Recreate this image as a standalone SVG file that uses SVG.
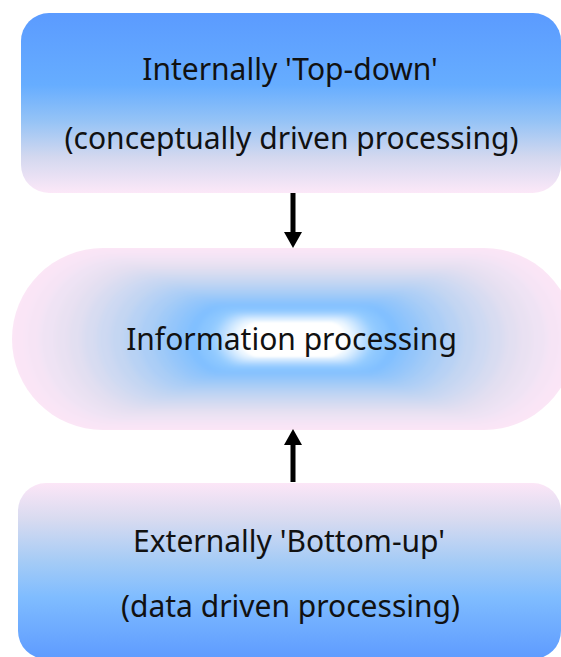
<svg xmlns="http://www.w3.org/2000/svg" width="561" height="657" viewBox="0 0 561 657">
<style>
.t{font-family:"Noto Sans","Open Sans","DejaVu Sans",sans-serif;font-size:30px;fill:#111;text-anchor:middle}
.c{stroke:#000;stroke-width:5;fill:none}
</style>
<defs>
<linearGradient id="gTop" x1="0" y1="0" x2="0" y2="1">
<stop offset="0" stop-color="#5b9bff"/>
<stop offset="0.4" stop-color="#66adff"/>
<stop offset="0.6" stop-color="#95c3f6"/>
<stop offset="0.8" stop-color="#d3d8ef"/>
<stop offset="1" stop-color="#fce8f8"/>
</linearGradient>
<linearGradient id="gBot" x1="0" y1="0" x2="0" y2="1">
<stop offset="0" stop-color="#fce6f7"/>
<stop offset="0.2" stop-color="#d9dbf0"/>
<stop offset="0.45" stop-color="#a4cbf6"/>
<stop offset="0.65" stop-color="#7fbcff"/>
<stop offset="1" stop-color="#5e9bff"/>
</linearGradient>
<clipPath id="midClip"><rect x="12" y="248" width="563" height="182" rx="91"/></clipPath>
<filter id="blur" filterUnits="userSpaceOnUse" x="-50" y="200" width="700" height="280"><feGaussianBlur stdDeviation="3"/></filter>
<filter id="blur1" filterUnits="userSpaceOnUse" x="200" y="300" width="200" height="80"><feGaussianBlur stdDeviation="0.8"/></filter>
<marker id="ah" markerUnits="userSpaceOnUse" markerWidth="16" markerHeight="18" viewBox="0 0 15 17" refX="0" refY="8.5" orient="auto">
<path d="M0,0 L15,8.5 L0,17 z" fill="#000"/>
</marker>
</defs>

<g id="node-top">
<rect x="21" y="13" width="540" height="180" rx="28" fill="url(#gTop)"/>
<text class="t" x="290" y="80">Internally 'Top-down'</text>
<text class="t" x="291.5" y="149">(conceptually driven processing)</text>
</g>

<g id="node-middle">
<g clip-path="url(#midClip)">
<g filter="url(#blur)">
<rect x="-16" y="239" width="619" height="200" rx="100" fill="#fce6f6"/>
<rect x="12" y="248" width="563" height="182" rx="91" fill="#fae5f6"/>
<rect x="26.07" y="252.55" width="534.85" height="172.9" rx="86.45" fill="#f6e4f5"/>
<rect x="40.15" y="257.1" width="506.7" height="163.8" rx="81.9" fill="#efe3f4"/>
<rect x="54.23" y="261.65" width="478.55" height="154.7" rx="77.35" fill="#e9e1f2"/>
<rect x="68.3" y="266.2" width="450.4" height="145.6" rx="72.8" fill="#e2dff1"/>
<rect x="82.38" y="270.75" width="422.25" height="136.5" rx="68.25" fill="#d8dcf1"/>
<rect x="96.45" y="275.3" width="394.1" height="127.4" rx="63.7" fill="#ced9f2"/>
<rect x="110.53" y="279.85" width="365.95" height="118.3" rx="59.15" fill="#c4d6f2"/>
<rect x="124.6" y="284.4" width="337.8" height="109.2" rx="54.6" fill="#b8d2f4"/>
<rect x="138.68" y="288.95" width="309.65" height="100.1" rx="50.05" fill="#accef6"/>
<rect x="152.75" y="293.5" width="281.5" height="91" rx="45.5" fill="#a0caf8"/>
<rect x="164.01" y="297.14" width="258.98" height="83.72" rx="41.86" fill="#95c6fa"/>
<rect x="175.27" y="300.78" width="236.46" height="76.44" rx="38.22" fill="#8bc3fd"/>
<rect x="186.53" y="304.42" width="213.94" height="69.16" rx="34.58" fill="#80bfff"/>
<rect x="197.79" y="308.06" width="191.42" height="61.88" rx="30.94" fill="#8bc6ff"/>
<rect x="209.05" y="311.7" width="168.9" height="54.6" rx="27.3" fill="#96cdff"/>
<rect x="217.5" y="314.43" width="152.01" height="49.14" rx="24.57" fill="#b7dcff"/>
<rect x="225.94" y="317.16" width="135.12" height="43.68" rx="21.84" fill="#d7ecff"/>
<rect x="234.39" y="319.89" width="118.23" height="38.22" rx="19.11" fill="#f5fbff"/>
</g>
<rect x="241" y="322" width="105" height="35" rx="17.5" fill="#fff" filter="url(#blur1)"/>
</g>
<text class="t" x="291.5" y="350">Information processing</text>
</g>

<g id="node-bottom">
<rect x="18" y="483" width="543" height="176" rx="28" fill="url(#gBot)"/>
<text class="t" x="289" y="552">Externally 'Bottom-up'</text>
<text class="t" x="290.5" y="617">(data driven processing)</text>
</g>

<g id="connectors">
<line class="c" x1="293" y1="193" x2="293" y2="232" marker-end="url(#ah)"/>
<line class="c" x1="293" y1="482" x2="293" y2="445" marker-end="url(#ah)"/>
</g>
</svg>
